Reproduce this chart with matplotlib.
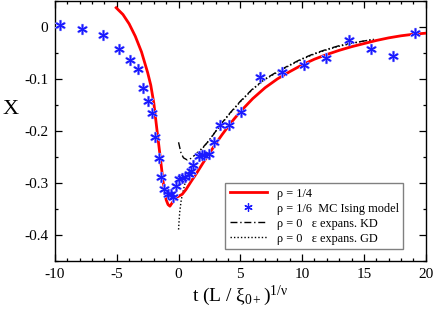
import matplotlib
matplotlib.use("Agg")
import matplotlib.pyplot as plt
from matplotlib.lines import Line2D
from matplotlib.ticker import MultipleLocator

plt.rcParams['font.family'] = ['Liberation Serif', 'DejaVu Serif']
plt.rcParams['mathtext.fontset'] = 'custom'
plt.rcParams['mathtext.rm'] = 'Liberation Serif'
plt.rcParams['mathtext.it'] = 'Liberation Serif:italic'
plt.rcParams['axes.unicode_minus'] = False

# rho = 1/4 curve
red_x = [-5.05, -4.5, -4.0, -3.5, -3.0, -2.5, -2.25, -2.0, -1.75, -1.5, -1.25, -1.0, -0.85, -0.7,
         -0.5, -0.25, 0.0, 0.3, 0.6, 1.0, 1.5, 2.0, 2.5, 3.0, 3.5, 4.0, 4.5, 5.0, 6.0, 7.0, 8.0,
         9.0, 10.0, 11.0, 12.0, 13.0, 14.0, 15.0, 16.0, 17.0, 18.0, 19.0, 20.0]
red_y = [0.037, 0.024, 0.006, -0.018, -0.048, -0.088, -0.112, -0.147, -0.198, -0.247, -0.298,
         -0.333, -0.342, -0.345, -0.338, -0.329, -0.326, -0.322, -0.313, -0.298, -0.280, -0.261,
         -0.243, -0.225, -0.208, -0.192, -0.177, -0.163, -0.138, -0.117, -0.100, -0.086, -0.073,
         -0.062, -0.053, -0.045, -0.038, -0.032, -0.026, -0.021, -0.017, -0.014, -0.012]

# rho = 1/6 MC Ising model
mc_x = [-9.6, -7.85, -6.1, -4.8, -3.9, -3.3, -2.87, -2.48, -2.19, -1.9, -1.57, -1.39, -1.21,
        -0.88, -0.6, -0.43, -0.17, 0.05, 0.3, 0.55, 0.85, 1.0, 1.17, 1.65, 1.9, 2.05, 2.5,
        2.9, 3.35, 4.07, 5.08, 6.6, 8.37, 10.18, 11.96, 13.77, 15.58, 17.36, 19.17]
mc_y = [0.004, -0.003, -0.015, -0.042, -0.064, -0.080, -0.117, -0.142, -0.166, -0.212, -0.252,
        -0.289, -0.311, -0.321, -0.322, -0.328, -0.307, -0.293, -0.290, -0.289, -0.283, -0.278,
        -0.265, -0.249, -0.247, -0.246, -0.245, -0.222, -0.188, -0.188, -0.164, -0.096, -0.087,
        -0.0725, -0.060, -0.026, -0.042, -0.055, -0.0115]

# rho = 0 epsilon expansion KD
kd_x = [0.0, 0.2, 0.4, 0.7, 1.0, 1.4, 2.0, 2.5, 3.0, 3.5, 4.0, 5.0, 6.0, 7.0, 8.0, 9.0, 10.0,
        11.0, 12.0, 13.0, 14.0, 15.0, 15.8]
kd_y = [-0.222, -0.243, -0.252, -0.256, -0.253, -0.245, -0.231, -0.218, -0.201, -0.185, -0.170,
        -0.143, -0.119, -0.100, -0.086, -0.073, -0.061, -0.051, -0.043, -0.036, -0.031, -0.027,
        -0.024]

# rho = 0 epsilon expansion GD
gd_x = [0.0, 0.05, 0.1, 0.2, 0.3, 0.5, 0.75, 1.0, 1.5, 2.0, 2.5, 3.0, 3.5, 4.0, 5.0, 6.0, 7.0,
        8.0, 9.0, 10.0, 11.0, 12.0, 13.0, 14.0, 15.0, 15.8]
gd_y = [-0.39, -0.37, -0.355, -0.336, -0.323, -0.303, -0.285, -0.272, -0.250, -0.232, -0.217,
        -0.201, -0.186, -0.171, -0.144, -0.120, -0.101, -0.087, -0.074, -0.062, -0.052, -0.044,
        -0.037, -0.032, -0.027, -0.024]

labels = ["ρ = 1/4", "ρ = 1/6  MC Ising model", "ρ = 0   ε expans. KD", "ρ = 0   ε expans. GD"]

fig = plt.figure(figsize=(4.36, 3.11), dpi=100)
ax = fig.add_axes([55/436, 1 - 260.7/311, 370.7/436, 259.7/311])

star = (6, 2, 0)
ax.plot(gd_x, gd_y, color='black', lw=1.0, ls=(0, (1, 1.5)), zorder=2)
ax.plot(kd_x, kd_y, color='black', lw=1.0, ls=(0, (5, 2, 1, 2)), zorder=2)
ax.plot(red_x, red_y, color='#ff0000', lw=2.0, zorder=3)
ax.plot(mc_x, mc_y, ls='none', marker=star, ms=8, mew=1.6, color='#9a9aff', zorder=4)
ax.plot(mc_x, mc_y, ls='none', marker=star, ms=7, mew=0.9, color='#1a1aff', zorder=5)

ax.set_xlim(-10, 20)
ax.set_ylim(-0.45, 0.05)
ax.xaxis.set_major_locator(MultipleLocator(5))
ax.xaxis.set_minor_locator(MultipleLocator(1))
ax.yaxis.set_major_locator(MultipleLocator(0.1))
ax.yaxis.set_minor_locator(MultipleLocator(0.05))
ax.set_xticks([-10, -5, 0, 5, 10, 15, 20])
ax.set_xticklabels(['-10', '-5', '0', '5', '10', '15', '20'])
ax.set_yticks([0, -0.1, -0.2, -0.3, -0.4])
ax.set_yticklabels(['0', '-0.1', '-0.2', '-0.3', '-0.4'])
ax.tick_params(which='both', direction='in', top=True, right=True, labelsize=11, width=0.9)
ax.tick_params(which='major', length=4.8, pad=5)
ax.tick_params(which='minor', length=2.4)
for s in ax.spines.values():
    s.set_linewidth(1.0)

ax.set_ylabel('X', fontsize=16, rotation=0, ha='center', va='center')
ax.yaxis.set_label_coords(-0.1206, 0.583)
ax.set_xlabel(r'$\mathrm{t\ (L\ /\ \xi_{0+})^{1/\nu}}$', fontsize=14, labelpad=2)

handles = [
    Line2D([], [], color='#ff0000', lw=2.0),
    Line2D([], [], ls='none', marker=star, ms=6, mew=0.9, color='#1a1aff'),
    Line2D([], [], color='black', lw=1.0, ls=(0, (5, 2, 1, 2))),
    Line2D([], [], color='black', lw=1.0, ls=(0, (1, 1.5))),
]
leg = ax.legend(handles, labels, loc='lower right', bbox_to_anchor=(0.9388, 0.045),
                borderaxespad=0, fontsize=8.8, fancybox=False, framealpha=1,
                edgecolor='#808080', handlelength=3.1, handletextpad=0.75,
                labelspacing=0.25, borderpad=0.35)
leg.get_frame().set_linewidth(1.0)

fig.savefig('out.png', dpi=100)
